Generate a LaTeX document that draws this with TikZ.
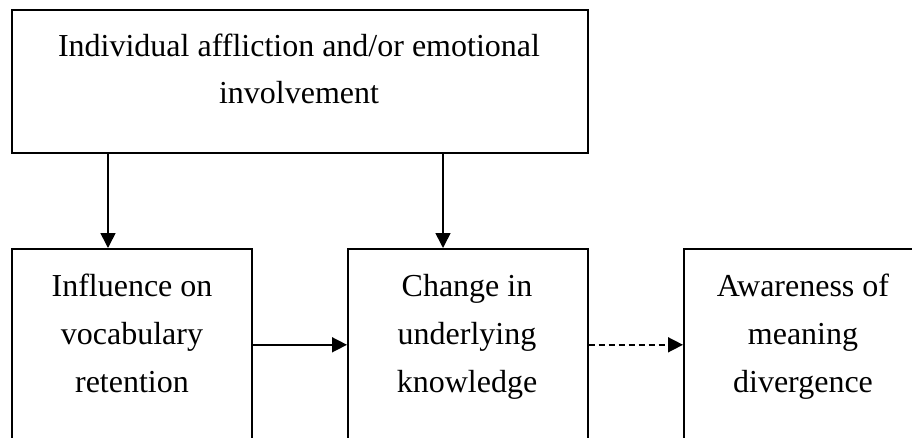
\documentclass[tikz,border=0pt]{standalone}
\usepackage{fontspec}
\setmainfont{Liberation Serif}
\usetikzlibrary{arrows.meta,calc}
\begin{document}
\begin{tikzpicture}[x=1pt,y=-1pt,
  boxa/.style={draw,line width=1.6pt,rectangle,inner sep=0pt,anchor=north west},
  lbltop/.style={font=\fontsize{32}{47}\selectfont, align=center, inner sep=0pt},
  lbl/.style={font=\fontsize{32}{48}\selectfont, align=center, inner sep=0pt},
  arr/.style={line width=1.6pt,-{Triangle[length=15pt,width=15pt]}},
]
\useasboundingbox (0,0) rectangle (912,437);
\node[boxa,minimum width=576pt,minimum height=143pt] (top) at (11,9) {};
\node[boxa,minimum width=240pt,minimum height=192pt] (b1) at (11,248) {};
\node[boxa,minimum width=240pt,minimum height=192pt] (b2) at (347,248) {};
\node[boxa,minimum width=240pt,minimum height=192pt] (b3) at (683,248) {};

\node[lbltop] (toptext) at (299,68.5) {Individual affliction and/or emotional\\involvement};
\node[lbl] (t1) at (132,333) {Influence on\\vocabulary\\retention};
\node[lbl] (t2) at (467,336.5) {Change in\\underlying\\knowledge};
\node[lbl] (t3) at (803,336.5) {Awareness of\\meaning\\divergence};

\coordinate (s1) at ($(top.south west)+(97,0)$);
\coordinate (s2) at ($(top.south west)+(432,0)$);
\draw[arr] (s1) -- (s1 |- b1.north);
\draw[arr] (s2) -- (s2 |- b2.north);
\draw[arr] (b1.east) -- (b2.west);
\draw[arr,dash pattern=on 6pt off 4pt] (b2.east) -- (b3.west);
\end{tikzpicture}
\end{document}
